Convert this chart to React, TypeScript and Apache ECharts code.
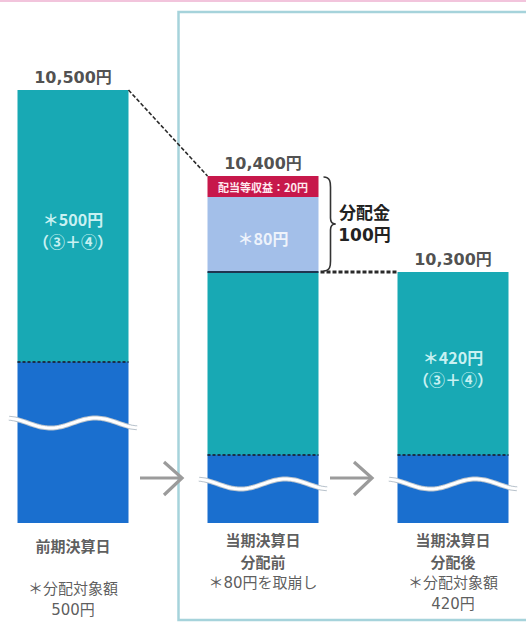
import React, { useEffect, useRef } from 'react';
import * as echarts from 'echarts';

// ---- data (illustrative heights; the diagram is not to scale) ----
const categories = ['前期決算日', '当期決算日\n分配前', '当期決算日\n分配後'];
const notes = ['＊分配対象額\n500円', '＊80円を取崩し', '＊分配対象額\n420円'];
const navLabels = ['10,500円', '10,400円', '10,300円'];
const baseHeights = [161, 68, 68]; // blue block (principal, broken scale)
const distributable = [272, 183, 183]; // teal block (distributable amount)
const drawdown = [0, 75, 0]; // light blue block (80円 drawn down)
const dividendIncome = [0, 21, 0]; // red block (配当等収益 20円)
const insideLabels = ['＊500円\n（③＋④）', '', '＊420円\n（③＋④）'];
const drawdownLabel = '＊80円';
const incomeLabel = '配当等収益：20円';
const waveHeights = [100, 39, 39];
const braceLabel = ['分配金', '100円'];
const arrowAfter = [0, 1];
const arrowHeight = 45;

const TEAL = '#18a9b4';
const BLUE = '#1a6fcf';
const LIGHT = '#a3bfe9';
const RED = '#c7184b';
const DARK = '#1b3049';
const FONT = "'DejaVu Sans', 'Noto Sans CJK JP', sans-serif";
const CJK = "'Noto Sans CJK JP', sans-serif";
const BAR_W = 111;
// the chart canvas is wider than the page and shifted left so that bands are 190px wide
const SHIFT = 22.5;
const CANVAS_W = 570;

const totals = baseHeights.map(
  (b, i) => b + distributable[i] + drawdown[i] + dividendIncome[i]
);
const tealTops = baseHeights.map((b, i) => b + distributable[i]);

export default function App() {
  const ref = useRef<HTMLDivElement>(null);
  useEffect(() => {
    if (!ref.current) return;
    const chart = echarts.init(ref.current, null, { renderer: 'svg' });
    const option: any = {
      animation: false,
      backgroundColor: '#ffffff',
      grid: { left: 0, right: 0, top: 23, bottom: 101 },
      xAxis: {
        type: 'category',
        data: categories,
        show: false,
      },
      yAxis: { type: 'value', min: 0, max: 500, show: false },
      graphic: [
        {
          type: 'line',
          shape: { x1: 0, y1: 1, x2: CANVAS_W, y2: 1 },
          style: { stroke: '#f2c4dc', lineWidth: 2 },
          silent: true,
        },
        {
          type: 'rect',
          shape: { x: 178 + SHIFT, y: 12, width: 380, height: 608 },
          style: { fill: 'none', stroke: '#a6d3db', lineWidth: 2.5 },
          silent: true,
          z: -1,
        },
      ],
      series: [
        {
          type: 'bar',
          stack: 'nav',
          barWidth: BAR_W,
          data: baseHeights,
          itemStyle: { color: BLUE },
        },
        {
          type: 'bar',
          stack: 'nav',
          barWidth: BAR_W,
          data: distributable.map((v, i) => ({
            value: v,
            label: {
              show: !!insideLabels[i],
              position: 'inside',
              offset: [0, 4],
              formatter: insideLabels[i],
              color: '#c9f1f2',
              fontFamily: CJK,
              fontWeight: 'bold',
              fontSize: 16,
              lineHeight: 22,
            },
          })),
          itemStyle: { color: TEAL },
        },
        {
          type: 'bar',
          stack: 'nav',
          barWidth: BAR_W,
          data: drawdown,
          itemStyle: { color: LIGHT },
          label: {
            show: true,
            position: 'inside',
            formatter: (p: any) => (p.value > 0 ? drawdownLabel : ''),
            color: '#eef3fb',
            fontFamily: CJK,
            fontWeight: 'bold',
            fontSize: 16,
            offset: [0, 3],
          },
        },
        {
          type: 'bar',
          stack: 'nav',
          barWidth: BAR_W,
          data: dividendIncome,
          itemStyle: { color: RED },
          label: {
            show: true,
            position: 'inside',
            formatter: (p: any) => (p.value > 0 ? incomeLabel : ''),
            color: '#ffe9ef',
            fontFamily: CJK,
            fontWeight: 'bold',
            fontSize: 11,
          },
        },
        // dotted divider between blue and teal
        {
          type: 'custom',
          z: 4,
          data: baseHeights.map((v, i) => [i, v]),
          renderItem: (params: any, api: any) => {
            const p = api.coord([api.value(0), api.value(1)]);
            return {
              type: 'line',
              shape: { x1: p[0] - BAR_W / 2, y1: p[1], x2: p[0] + BAR_W / 2, y2: p[1] },
              style: { stroke: DARK, lineWidth: 2, lineDash: [3, 2] },
            };
          },
        },
        // wavy break lines
        {
          type: 'custom',
          z: 4,
          data: waveHeights.map((v, i) => [i, v]),
          renderItem: (params: any, api: any) => {
            const p = api.coord([api.value(0), api.value(1)]);
            const pts: number[][] = [];
            for (let t = -64; t <= 64; t += 2) {
              pts.push([p[0] + t, p[1] + 5 * Math.sin(((t + 45) * 2 * Math.PI) / 90)]);
            }
            return {
              type: 'group',
              children: [
                {
                  type: 'polyline',
                  shape: { points: pts },
                  style: { stroke: '#b9c3cc', lineWidth: 5, fill: 'none' },
                },
                {
                  type: 'polyline',
                  shape: { points: pts },
                  style: { stroke: '#ffffff', lineWidth: 3, fill: 'none' },
                },
              ],
            };
          },
        },
        // connectors: diagonal from bar1 top to bar2 top, horizontal from bar2 teal top to bar3
        {
          type: 'custom',
          z: 4,
          encode: { x: 0, y: [1, 2] },
          data: [
            [0, totals[0], totals[1]],
            [1, tealTops[1], totals[2]],
          ],
          renderItem: (params: any, api: any) => {
            const a = api.coord([api.value(0), api.value(1)]);
            const b0 = api.coord([api.value(0), api.value(2)]);
            const band = api.size([1, 0])[0];
            const bx = a[0] + band;
            const by = b0[1];
            if (params.dataIndex === 0) {
              return {
                type: 'line',
                shape: { x1: a[0] + BAR_W / 2, y1: a[1], x2: bx - BAR_W / 2, y2: by },
                style: { stroke: '#2a2a2a', lineWidth: 1.6, lineDash: [4, 2] },
              };
            }
            return {
              type: 'group',
              children: [
                {
                  type: 'line',
                  shape: { x1: a[0] - BAR_W / 2, y1: a[1], x2: a[0] + BAR_W / 2, y2: a[1] },
                  style: { stroke: '#1f3550', lineWidth: 2 },
                },
                {
                  type: 'line',
                  shape: { x1: a[0] + BAR_W / 2 + 2, y1: a[1], x2: bx - BAR_W / 2, y2: by },
                  style: { stroke: '#2a2a2a', lineWidth: 3, lineDash: [4, 2] },
                },
              ],
            };
          },
        },
        // brace for distribution
        {
          type: 'custom',
          z: 4,
          encode: { x: 0, y: [1, 2] },
          data: [[1, totals[1], tealTops[1]]],
          renderItem: (params: any, api: any) => {
            const top = api.coord([api.value(0), api.value(1)]);
            const bot = api.coord([api.value(0), api.value(2)]);
            const x = top[0] + BAR_W / 2 + 5;
            const y1 = top[1] + 1;
            const y2 = bot[1] - 1;
            const ym = (y1 + y2) / 2;
            const st = { stroke: '#333', lineWidth: 1.6, fill: 'none' };
            return {
              type: 'group',
              children: [
                { type: 'bezierCurve', shape: { x1: x, y1: y1, cpx1: x + 7, cpy1: y1, cpx2: x + 7, cpy2: y1 + 6, x2: x + 7, y2: y1 + 10 }, style: st },
                { type: 'line', shape: { x1: x + 7, y1: y1 + 10, x2: x + 7, y2: ym - 6 }, style: st },
                { type: 'bezierCurve', shape: { x1: x + 7, y1: ym - 6, cpx1: x + 7, cpy1: ym - 1, cpx2: x + 9, cpy2: ym, x2: x + 12, y2: ym }, style: st },
                { type: 'bezierCurve', shape: { x1: x + 12, y1: ym, cpx1: x + 9, cpy1: ym, cpx2: x + 7, cpy2: ym + 1, x2: x + 7, y2: ym + 6 }, style: st },
                { type: 'line', shape: { x1: x + 7, y1: ym + 6, x2: x + 7, y2: y2 - 10 }, style: st },
                { type: 'bezierCurve', shape: { x1: x + 7, y1: y2 - 10, cpx1: x + 7, cpy1: y2 - 6, cpx2: x + 7, cpy2: y2, x2: x, y2: y2 }, style: st },
                {
                  type: 'text',
                  x: x + 41,
                  y: ym,
                  style: {
                    text: braceLabel.join('\n'),
                    fontFamily: FONT,
                    fontWeight: 'bold',
                    fontSize: 17,
                    lineHeight: 22,
                    fill: '#222',
                    align: 'center',
                    verticalAlign: 'middle',
                  },
                },
              ],
            };
          },
        },
        // arrows between bars
        {
          type: 'custom',
          z: 4,
          data: arrowAfter.map((i) => [i, arrowHeight]),
          renderItem: (params: any, api: any) => {
            const c = api.coord([api.value(0), api.value(1)]);
            const band = api.size([1, 0])[0];
            const p = [c[0] + band / 2, c[1]];
            const st = { stroke: '#9b9b9b', lineWidth: 3.2, fill: 'none' };
            return {
              type: 'group',
              children: [
                { type: 'line', shape: { x1: p[0] - 28, y1: p[1], x2: p[0] + 14, y2: p[1] }, style: st },
                {
                  type: 'polyline',
                  shape: { points: [[p[0] - 4, p[1] - 16], [p[0] + 14, p[1]], [p[0] - 4, p[1] + 17]] },
                  style: st,
                },
              ],
            };
          },
        },
        // NAV labels above bars
        {
          type: 'scatter',
          symbolSize: 0,
          data: totals.map((v, i) => [i, v]),
          label: {
            show: true,
            position: 'top',
            distance: 5,
            formatter: (p: any) => navLabels[p.dataIndex],
            fontFamily: FONT,
            fontWeight: 'bold',
            fontSize: 16,
            color: '#222',
          },
        },
        // category labels and notes below bars
        {
          type: 'scatter',
          symbolSize: 0,
          data: categories.map((c, i) => ({
            value: [i, 0],
            label: { distance: i === 0 ? 11 : 5 },
          })),
          label: {
            show: true,
            position: 'bottom',
            formatter: (p: any) => {
              const i = p.dataIndex;
              const t = categories[i].split('\n').map((s) => `{t|${s}}`);
              if (t.length === 1) t.push('{t|}');
              const n = notes[i].split('\n').map((s) => `{n|${s}}`);
              return t.concat(n).join('\n');
            },
            rich: {
              t: { fontFamily: CJK, fontWeight: 'bold', fontSize: 15, lineHeight: 22, color: '#333', align: 'center' },
              n: { fontFamily: FONT, fontSize: 15, lineHeight: 21, color: '#333', align: 'center' },
            },
          },
        },
      ],
    };
    chart.setOption(option);
    return () => chart.dispose();
  }, []);
  return (
    <div
      style={{
        position: 'absolute',
        left: 0,
        top: 0,
        width: 526,
        height: 624,
        overflow: 'hidden',
        background: '#fff',
      }}
    >
      <div
        ref={ref}
        style={{ position: 'absolute', left: -SHIFT, top: 0, width: CANVAS_W, height: 624 }}
      />
    </div>
  );
}
